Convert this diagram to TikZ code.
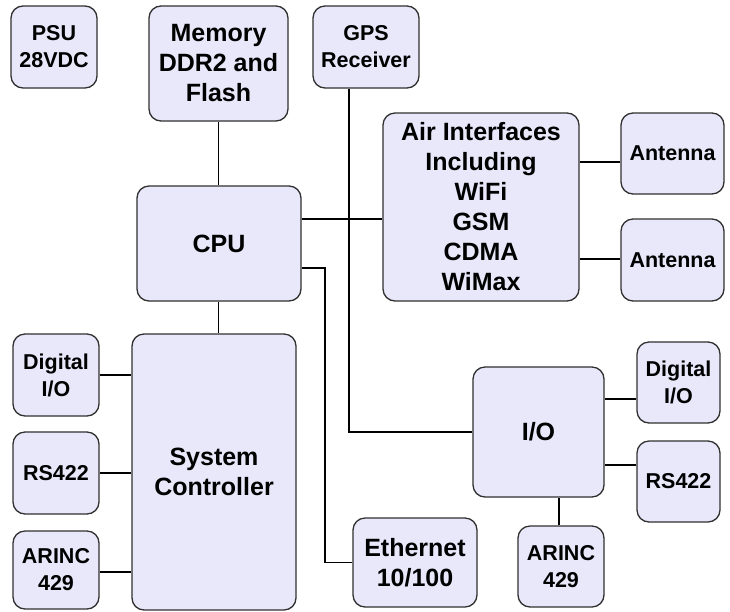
\documentclass[tikz,border=0pt]{standalone}
\usepackage{fontspec}
\setmainfont{Liberation Sans}
\definecolor{boxfill}{HTML}{E8E8FA}
\definecolor{boxline}{HTML}{303030}
\begin{document}
\begin{tikzpicture}[x=1pt,y=-1pt,
  box/.style={draw=boxline, line width=1.3pt, fill=boxfill, rounded corners=12pt,
    inner sep=0pt, align=center},
  big/.style={font=\fontsize{25}{30}\selectfont\bfseries},
  small/.style={font=\fontsize{21.5}{27}\selectfont\bfseries},
  wire/.style={draw=black, line width=1.8pt}]
\useasboundingbox (0,0) rectangle (730,611);
% nodes
\node[box,small,minimum width=86pt,minimum height=82pt] (psu) at (54,47) {PSU\\28VDC};
\node[box,big,minimum width=139pt,minimum height=115pt] (mem) at (218.5,63.5) {Memory\\DDR2 and\\Flash};
\node[box,small,minimum width=106pt,minimum height=82pt] (gps) at (366,47) {GPS\\Receiver};
\node[box,big,minimum width=196pt,minimum height=188pt] (air) at (481,207) {Air Interfaces\\Including\\WiFi\\GSM\\CDMA\\WiMax};
\node[box,small,minimum width=103pt,minimum height=81pt] (ant1) at (672.5,153.5) {Antenna};
\node[box,small,minimum width=103pt,minimum height=82pt] (ant2) at (672.5,260) {Antenna};
\node[box,big,minimum width=164pt,minimum height=115pt] (cpu) at (219,243.5) {CPU};
\node[box,small,minimum width=86pt,minimum height=82pt] (dio1) at (56,375) {Digital\\I/O};
\node[box,big,minimum width=164pt,minimum height=276pt] (sc) at (214,472) {System\\Controller};
\node[box,small,minimum width=86pt,minimum height=82pt] (rs1) at (56,473) {RS422};
\node[box,small,minimum width=86pt,minimum height=78pt] (ar1) at (56,570) {ARINC\\429};
\node[box,big,minimum width=131pt,minimum height=130pt] (io) at (538.5,432) {I/O};
\node[box,small,minimum width=83pt,minimum height=81pt] (dio2) at (678.5,382.5) {Digital\\I/O};
\node[box,small,minimum width=83pt,minimum height=81pt] (rs2) at (678.5,481.5) {RS422};
\node[box,small,minimum width=86pt,minimum height=81pt] (ar2) at (561,566.5) {ARINC\\429};
\node[box,big,minimum width=124pt,minimum height=89pt] (eth) at (415,562.5) {Ethernet\\10/100};
% helper coordinates
\coordinate (gpsx) at (349,0);
\coordinate (ethx) at (325,0);
\coordinate (ethy) at (0,268);
\coordinate (cpuair) at (0,219);
\coordinate (a1y) at (0,162);
\coordinate (a2y) at (0,259);
\coordinate (d1y) at (0,375);
\coordinate (r1y) at (0,473);
\coordinate (ar1y) at (0,572);
\coordinate (d2y) at (0,399);
\coordinate (r2y) at (0,465);
\coordinate (ar2x) at (559,0);
% connectors
\draw[wire] (mem.south) -- (cpu.north -| mem.south);
\draw[wire] (cpu.south -| mem.south) -- (sc.north -| mem.south);
\draw[wire] (cpu.east |- cpuair) -- (air.west |- cpuair);
\draw[wire] (gps.south -| gpsx) |- (io.west);
\draw[wire] (cpu.east |- ethy) -| (ethx |- eth.west) -- (eth.west);
\draw[wire] (air.east |- a1y) -- (ant1.west |- a1y);
\draw[wire] (air.east |- a2y) -- (ant2.west |- a2y);
\draw[wire] (dio1.east |- d1y) -- (sc.west |- d1y);
\draw[wire] (rs1.east |- r1y) -- (sc.west |- r1y);
\draw[wire] (ar1.east |- ar1y) -- (sc.west |- ar1y);
\draw[wire] (io.east |- d2y) -- (dio2.west |- d2y);
\draw[wire] (io.east |- r2y) -- (rs2.west |- r2y);
\draw[wire] (io.south -| ar2x) -- (ar2.north -| ar2x);
\end{tikzpicture}
\end{document}
